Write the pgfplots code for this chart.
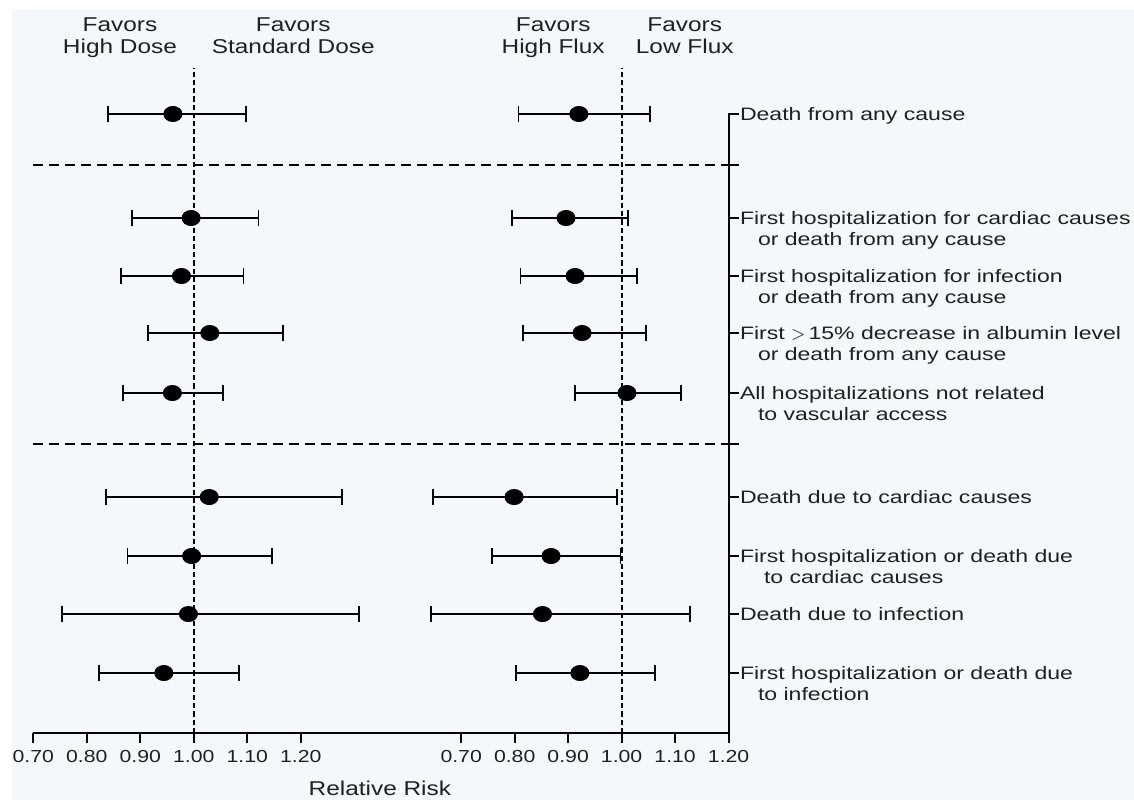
\documentclass[border=0pt]{standalone}
\usepackage{pgfplots}
\pgfplotsset{compat=1.18}
\usepackage{pgfplotstable}
\usepackage{fontspec}
\setmainfont{Liberation Sans}[FakeStretch=1.22]
\newfontfamily\labfont{Liberation Sans}[FakeStretch=1.28]
\usetikzlibrary{backgrounds}
\definecolor{txt}{HTML}{202020}
\definecolor{bgc}{HTML}{F6F7F8}

\pgfplotstableread{
y est lo hi
619 0.961 0.840 1.097
515 0.995 0.885 1.121
457 0.977 0.864 1.093
400 1.030 0.914 1.167
340 0.960 0.868 1.055
236 1.029 0.836 1.277
177 0.996 0.876 1.146
119 0.990 0.754 1.309
60  0.944 0.823 1.085
}\dosetab

\pgfplotstableread{
y est lo hi
619 0.920 0.807 1.053
515 0.896 0.795 1.012
457 0.913 0.811 1.028
400 0.926 0.816 1.045
340 1.010 0.913 1.111
236 0.799 0.647 0.992
177 0.868 0.758 0.998
119 0.852 0.644 1.128
60  0.922 0.803 1.062
}\fluxtab

\newcommand{\twol}[3]{\begin{tabular}[t]{@{}l@{}}#1\\\hspace{#3}#2\end{tabular}}

\begin{document}
\begin{tikzpicture}
\begin{axis}[
  x=267.4pt, y=0.5pt,
  xmin=0.7, xmax=2.0, ymin=0, ymax=620,
  axis x line*=bottom, axis y line*=right,
  axis line style={black, line width=0.9pt},
  clip=false,
  tick align=outside,
  major tick length=5pt,
  tick style={black, line width=0.9pt},
  xtick={0.7,0.8,0.9,1.0,1.1,1.2,1.5,1.6,1.7,1.8,1.9,2.0},
  xticklabels={0.70,0.80,0.90,1.00,1.10,1.20,0.70,0.80,0.90,1.00,1.10,1.20},
  xticklabel style={font=\fontsize{8.7}{10}\selectfont, text=txt},
  ytick={60,119,177,236,289,340,400,457,515,568,619},
  yticklabels={
    \twol{First hospitalization or death due}{to infection}{9pt},
    Death due to infection,
    \twol{First hospitalization or death due}{to cardiac causes}{12pt},
    Death due to cardiac causes,
    {},
    \twol{All hospitalizations not related}{to vascular access}{9pt},
    \twol{First $>$\,15\% decrease in albumin level}{or death from any cause}{9pt},
    \twol{First hospitalization for infection}{or death from any cause}{9pt},
    \twol{First hospitalization for cardiac causes}{or death from any cause}{9pt},
    {},
    Death from any cause},
  yticklabel style={anchor=base west, inner sep=0pt, yshift=-3.2pt, xshift=0.5pt,
    font=\labfont\fontsize{9}{10.6}\selectfont, text=txt},
]
% reference lines
\addplot[black, line width=0.9pt, dash pattern=on 2.6pt off 1.5pt] coordinates {(1.0,0) (1.0,665)};
\addplot[black, line width=0.9pt, dash pattern=on 2.6pt off 1.5pt] coordinates {(1.8,0) (1.8,665)};
\addplot[black, line width=0.9pt, dash pattern=on 5pt off 3pt] coordinates {(0.7,568) (2.016,568)};
\addplot[black, line width=0.9pt, dash pattern=on 5pt off 3pt] coordinates {(0.7,289) (2.016,289)};
% high vs standard dose
\addplot[only marks, mark=*, mark size=3.8pt, black,
  mark options={xscale=1.2, fill=black},
  error bars/.cd, x dir=both, x explicit, error mark=|,
  error bar style={line width=0.9pt, black},
  error mark options={line width=0.9pt, mark size=4pt, black}]
  table[x=est, y=y, x error plus expr=\thisrow{hi}-\thisrow{est},
        x error minus expr=\thisrow{est}-\thisrow{lo}] {\dosetab};
% high vs low flux (shifted by 0.8 on the shared axis)
\addplot[only marks, mark=*, mark size=3.8pt, black,
  mark options={xscale=1.2, fill=black},
  error bars/.cd, x dir=both, x explicit, error mark=|,
  error bar style={line width=0.9pt, black},
  error mark options={line width=0.9pt, mark size=4pt, black}]
  table[x expr=\thisrow{est}+0.8, y=y, x error plus expr=\thisrow{hi}-\thisrow{est},
        x error minus expr=\thisrow{est}-\thisrow{lo}] {\fluxtab};
% headings
\begin{scope}[every node/.style={anchor=base, text=txt, font=\fontsize{10}{11}\selectfont}]
\node at (axis cs:0.862,701.5) {Favors};
\node at (axis cs:0.862,679.5) {High Dose};
\node at (axis cs:1.186,701.5) {Favors};
\node at (axis cs:1.186,679.5) {Standard Dose};
\node at (axis cs:1.672,701.5) {Favors};
\node at (axis cs:1.672,679.5) {High Flux};
\node at (axis cs:1.918,701.5) {Favors};
\node at (axis cs:1.918,679.5) {Low Flux};
\end{scope}
\node[text=txt, font=\fontsize{10}{11}\selectfont] at (axis cs:1.348,-55) {Relative Risk};
\coordinate (bl) at (axis cs:0.6377,-67);
\coordinate (tr) at (axis cs:2.758,733);
\coordinate (ibl) at (axis cs:0.6601,-67);
\coordinate (itr) at (axis cs:2.758,723);
\end{axis}
\begin{scope}[on background layer]
\fill[white] (bl) rectangle (tr);
\fill[bgc] (ibl) rectangle (itr);
\end{scope}
\pgfresetboundingbox
\useasboundingbox (bl) rectangle (tr);
\end{tikzpicture}
\end{document}
